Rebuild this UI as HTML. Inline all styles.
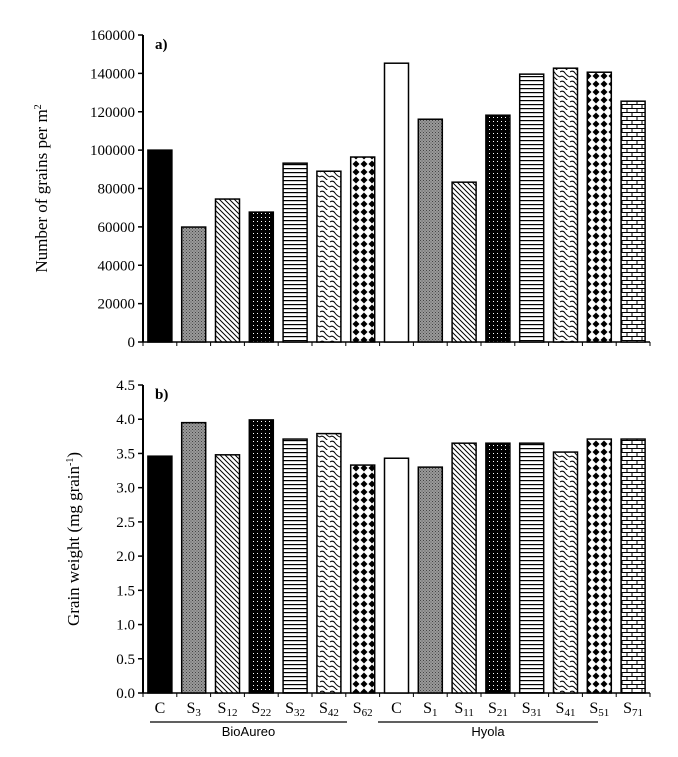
<!DOCTYPE html>
<html><head><meta charset="utf-8"><style>
body{margin:0;background:#fff;}
svg{display:block;font-family:"Liberation Serif",serif;}
</style></head><body>
<svg id="chart" width="678" height="757" viewBox="0 0 678 757" xmlns="http://www.w3.org/2000/svg">
<defs>
<pattern id="p-gray" width="3" height="3" patternUnits="userSpaceOnUse"><rect width="3" height="3" fill="#9a9a9a"/><rect width="1" height="1" fill="#444"/><rect x="1.5" y="1.5" width="1" height="1" fill="#555"/></pattern>
<pattern id="p-diag" width="5" height="5" patternUnits="userSpaceOnUse"><rect width="5" height="5" fill="#fff"/><path d="M-1,-1 L6,6 M-1,4 L1,6 M4,-1 L6,1" stroke="#000" stroke-width="1"/></pattern>
<pattern id="p-dots" width="4" height="4" patternUnits="userSpaceOnUse"><rect width="4" height="4" fill="#000"/><rect x="1" y="1" width="1" height="1" fill="#fff"/></pattern>
<pattern id="p-hline" width="4" height="4" patternUnits="userSpaceOnUse"><rect width="4" height="4" fill="#fff"/><rect y="0" width="4" height="1.2" fill="#000"/></pattern>
<pattern id="p-wave" width="10" height="10" patternUnits="userSpaceOnUse"><rect width="10" height="10" fill="#fff"/><path d="M0,2 Q3,0 5,3 T10,7 M0,7 Q2,5 5,8 T10,12" stroke="#000" stroke-width="1" fill="none"/></pattern>
<pattern id="p-diamond" width="8" height="8" patternUnits="userSpaceOnUse"><rect width="8" height="8" fill="#fff"/><path d="M4,0.5 L7.5,4 L4,7.5 L0.5,4Z" fill="#000"/></pattern>
<pattern id="p-brick" width="10" height="8" patternUnits="userSpaceOnUse"><rect width="10" height="8" fill="#fff"/><path d="M0,0.5 H10 M0,4.5 H10 M2,0.5 V4.5 M7,4.5 V8" stroke="#000" stroke-width="1"/></pattern>
</defs>
<g id="plot"></g>
</svg>
<script>
const categories=["C","S|3","S|12","S|22","S|32","S|42","S|62","C","S|1","S|11","S|21","S|31","S|41","S|51","S|71"];
const grainsPerM2=[100000,59900,74500,67700,93200,89000,96400,145300,116100,83300,118200,139600,142700,140600,125500];
const grainWeight=[3.46,3.95,3.48,3.99,3.71,3.79,3.33,3.43,3.30,3.65,3.65,3.65,3.52,3.71,3.71];
const fills=["#000","url(#p-gray)","url(#p-diag)","url(#p-dots)","url(#p-hline)","url(#p-wave)","url(#p-diamond)","#fff","url(#p-gray)","url(#p-diag)","url(#p-dots)","url(#p-hline)","url(#p-wave)","url(#p-diamond)","url(#p-brick)"];
const ticksA=["0","20000","40000","60000","80000","100000","120000","140000","160000"];
const ticksB=["0.0","0.5","1.0","1.5","2.0","2.5","3.0","3.5","4.0","4.5"];
const groups=["BioAureo","Hyola"];

const NS="http://www.w3.org/2000/svg";
const g=document.getElementById('plot');
function el(t,a,txt){const e=document.createElementNS(NS,t);for(const k in a)e.setAttribute(k,a[k]);if(txt!==undefined)e.textContent=txt;g.appendChild(e);return e;}
const x0=143,x1=650,pitch=(x1-x0)/categories.length,bw=24;
const xPos=i=>x0+i*pitch+(pitch-bw)/2;

function panel(vals,ticks,max,yTop,yBot,prefix,title,titleX,panelLabel){
  const y=v=>yBot-(v/max)*(yBot-yTop);
  let ax=el('line',{x1:x0,y1:yTop,x2:x0,y2:yBot,stroke:'#000','stroke-width':2});
  
  let bx=el('line',{x1:x0,y1:yBot,x2:x1,y2:yBot,stroke:'#000','stroke-width':1.5});
  
  ticks.forEach((t,i)=>{const v=max*i/(ticks.length-1);const yy=y(v);
    el('line',{x1:x0-5,y1:yy,x2:x0,y2:yy,stroke:'#000','stroke-width':1.5});
    const tx=el('text',{x:x0-8,y:yy+5,'text-anchor':'end','font-size':15},t);
    });
  for(let i=0;i<=categories.length;i++){el('line',{x1:x0+i*pitch,y1:yBot,x2:x0+i*pitch,y2:yBot+4,stroke:'#000','stroke-width':1});}
  vals.forEach((v,i)=>{const r=el('rect',{x:xPos(i),y:y(v),width:bw,height:yBot-y(v),fill:fills[i],stroke:'#000','stroke-width':1.5});
    });
  const tt=el('text',{x:titleX,y:(yTop+yBot)/2,'text-anchor':'middle','font-size':17,transform:`rotate(-90 ${titleX} ${(yTop+yBot)/2})`});
  tt.innerHTML=title;
  
  const pl=el('text',{x:155,y:yTop+14,'font-size':15,'font-weight':'bold'},panelLabel);
  
}
panel(grainsPerM2,ticksA,160000,35,342,'grains','Number of grains per m<tspan dy="-6" font-size="10">2</tspan>',47,'a)');
panel(grainWeight,ticksB,4.5,385,693,'weight','Grain weight (mg grain<tspan dy="-6" font-size="10">-1</tspan><tspan dy="6">)</tspan>',79,'b)');

categories.forEach((c,i)=>{const cx=x0+i*pitch+pitch/2;const p=c.split('|');
  const t=el('text',{x:cx,y:713,'text-anchor':'middle','font-size':16});
  t.innerHTML=p[0]+(p[1]?'<tspan dy="3" font-size="11">'+p[1]+'</tspan>':'');
  });
[[150,347],[378,598]].forEach((r,i)=>{
  const l=el('line',{x1:r[0],y1:722,x2:r[1],y2:722,stroke:'#000','stroke-width':1.2});
  
  const t=el('text',{x:(r[0]+r[1])/2,y:736,'text-anchor':'middle','font-size':13,'font-family':'Liberation Sans, sans-serif'},groups[i]);
  });
</script>
</body></html>
